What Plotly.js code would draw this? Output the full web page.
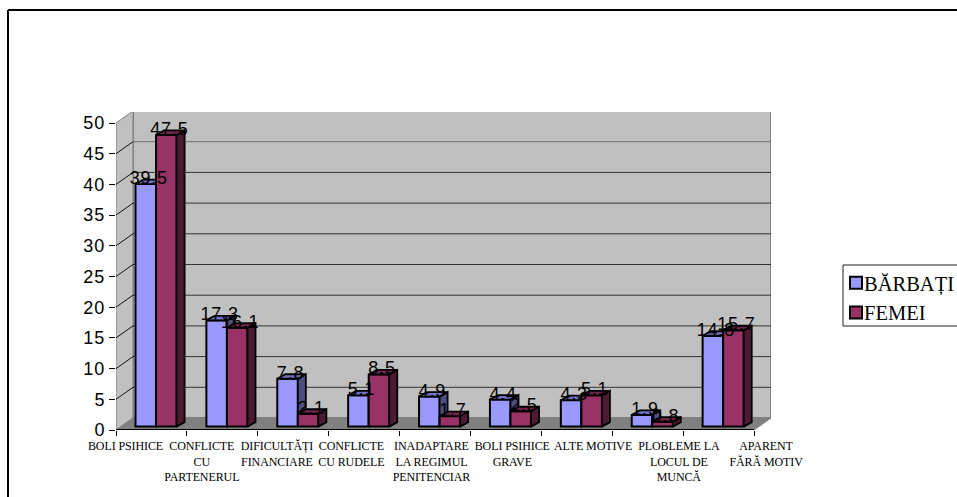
<!DOCTYPE html>
<html>
<head>
<meta charset="utf-8">
<script src="https://cdn.plot.ly/plotly-3.0.1.min.js"></script>
<style>
  html, body { margin: 0; padding: 0; background: #fff; }
  #chart { width: 957px; height: 497px; }
  .ytick text { letter-spacing: 1px; }
  .textpoint text { letter-spacing: 0.8px; }
  .legendtext { transform: translateX(-12px); }
  .x2tick text { letter-spacing: -0.1px; }
</style>
</head>
<body>
<div id="chart"></div>
<script>
// Suicide motives by sex, percentages per category
const categories = [
  "BOLI PSIHICE",
  "CONFLICTE<br>CU<br>PARTENERUL",
  "DIFICULTĂȚI<br>FINANCIARE",
  "CONFLICTE<br>CU RUDELE",
  "INADAPTARE<br>LA REGIMUL<br>PENITENCIAR",
  "BOLI PSIHICE<br>GRAVE",
  "ALTE MOTIVE",
  "PLOBLEME LA<br>LOCUL DE<br>MUNCĂ",
  "APARENT<br>FĂRĂ MOTIV"
];
const barbati = [39.5, 17.3, 7.8, 5.1, 4.9, 4.4, 4.3, 1.9, 14.8];
const femei = [47.5, 16.1, 2.1, 8.5, 1.7, 2.5, 5.1, 0.8, 15.7];
const yTicks = [0, 5, 10, 15, 20, 25, 30, 35, 40, 45, 50];
// Category label centres drift to the right of the category slots
const labelCentres = [0.134, 1.21, 2.27, 3.32, 4.45, 5.59, 6.73, 7.94, 9.17];

// Frame geometry in pixels of the page
const W = 957, H = 497;
const plotL = 116, plotT = 112, plotR = 771, plotB = 430;
const unitX = 638 / 9, unitY = 307 / 50;

// Depth of the box and of the bars, expressed in axis units
const wallDX = 17 / unitX, wallDY = 12 / unitY;
const barDX = 8 / unitX, barDY = 4.5 / unitY;
const barBase = 0.55, barW = 0.29, barStart = 0.275;
const labelLift = 4.5 / unitY;

const xMax = (plotR - plotL) / unitX, yMax = (plotB - plotT) / unitY;
const paperX = px => (px - plotL) / (plotR - plotL);
const paperY = px => (plotB - px) / (plotB - plotT);

function frontBar(name, values, slot, color, xa, ya) {
  return {
    type: "bar", name, xaxis: xa, yaxis: ya, hoverinfo: "skip",
    x: values.map((_, i) => i + barStart + barW * (slot + 0.5)),
    y: values, base: values.map(() => barBase), width: barW,
    marker: { color, line: { color: "#000", width: 2 } }
  };
}

// One outlined polygon per bar, separated by nulls
function depthFaces(values, slot, color, xa, ya, face) {
  const xs = [], ys = [];
  values.forEach((v, i) => {
    const l = i + barStart + barW * slot, r = l + barW, top = barBase + v;
    const pts = face === "side"
      ? [[r, barBase], [r + barDX, barBase + barDY], [r + barDX, top + barDY], [r, top], [r, barBase]]
      : [[l, top], [l + barDX, top + barDY], [r + barDX, top + barDY], [r, top], [l, top]];
    pts.forEach(p => { xs.push(p[0]); ys.push(p[1]); });
    xs.push(null); ys.push(null);
  });
  return {
    type: "scatter", mode: "lines", x: xs, y: ys, xaxis: xa, yaxis: ya,
    fill: "toself", fillcolor: color, showlegend: false, hoverinfo: "skip",
    line: { color: "#000", width: 1.8 }
  };
}

function valueLabels(values, slot) {
  return {
    type: "scatter", mode: "text", xaxis: "x2", yaxis: "y2",
    x: values.map((_, i) => i + barStart + barW * (slot + 0.5) + 3 / unitX),
    y: values.map(v => barBase + v + labelLift),
    text: values.map(v => v.toFixed(1)),
    textposition: "middle center", cliponaxis: false,
    textfont: { family: "Liberation Sans, Arial, sans-serif", size: 18, color: "#000" },
    showlegend: false, hoverinfo: "skip"
  };
}

const traces = [
  depthFaces(barbati, 0, "#4d4d80", "x", "y", "side"),
  depthFaces(barbati, 0, "#7373bf", "x", "y", "top"),
  frontBar("BĂRBAȚI", barbati, 0, "#9999ff", "x", "y"),
  depthFaces(femei, 1, "#4d1a33", "x2", "y2", "side"),
  depthFaces(femei, 1, "#73264d", "x2", "y2", "top"),
  frontBar("FEMEI", femei, 1, "#993366", "x2", "y2"),
  valueLabels(barbati, 0),
  valueLabels(femei, 1)
];

const wallGrey = "#808080";
const shapes = [
  // outer chart frame
  { type: "line", xref: "paper", yref: "paper", x0: paperX(8), x1: paperX(W + 4), y0: paperY(10), y1: paperY(10), line: { color: "#000", width: 2 } },
  { type: "line", xref: "paper", yref: "paper", x0: paperX(8), x1: paperX(8), y0: paperY(10), y1: paperY(H + 4), line: { color: "#000", width: 2 } },
  // legend box
  { type: "rect", xref: "paper", yref: "paper", x0: paperX(843), x1: paperX(W + 4), y0: paperY(326), y1: paperY(265), line: { color: "#222", width: 1 } },
  // back wall, side wall and floor of the box
  { type: "rect", layer: "below", xref: "x", yref: "y", x0: wallDX, x1: 9 + wallDX, y0: wallDY, y1: 50 + wallDY, fillcolor: "#c0c0c0", line: { color: wallGrey, width: 2 } },
  { type: "path", layer: "below", xref: "x", yref: "y", path: `M0,0 L${wallDX},${wallDY} L${wallDX},${50 + wallDY} L0,50 Z`, fillcolor: "#c0c0c0", line: { color: wallGrey, width: 1 } },
  { type: "path", layer: "below", xref: "x", yref: "y", path: `M0,0 L9,0 L${9 + wallDX},${wallDY} L${wallDX},${wallDY} Z`, fillcolor: "#808080", line: { color: wallGrey, width: 1 } },
  // category axis line
  { type: "line", xref: "x", yref: "y", x0: 0, x1: 9, y0: 0, y1: 0, line: { color: "#000", width: 2 } }
];

// Gridlines run across the back wall and fold down the side wall
yTicks.filter(v => v > 0).forEach(v => {
  const c = v === 50 ? wallGrey : (v === 45 ? "#6e6e6e" : "#333");
  shapes.push({ type: "line", layer: "below", xref: "x", yref: "y", x0: wallDX, x1: 9 + wallDX, y0: v + wallDY, y1: v + wallDY, line: { color: c, width: v === 50 ? 2 : 1 } });
});
yTicks.filter(v => v > 0 && v < 50).forEach(v => {
  shapes.push({ type: "line", layer: "below", xref: "x", yref: "y", x0: 0, x1: wallDX, y0: v, y1: v + wallDY, line: { color: "#111", width: 1 } });
});

const layout = {
  width: W, height: H,
  margin: { l: plotL, t: plotT, r: W - plotR, b: H - plotB, pad: 0, autoexpand: false },
  paper_bgcolor: "#fff", plot_bgcolor: "rgba(0,0,0,0)",
  barmode: "overlay", showlegend: true,
  xaxis: {
    range: [0, xMax], showgrid: false, zeroline: false, showline: false,
    tickmode: "array", tickvals: [0, 1, 2, 3, 4, 5, 6, 7, 8, 9], ticktext: ["", "", "", "", "", "", "", "", "", ""],
    ticks: "outside", ticklen: 5, tickwidth: 1, tickcolor: "#000"
  },
  xaxis2: {
    overlaying: "x", anchor: "y2", side: "bottom", range: [0, xMax],
    showgrid: false, zeroline: false, showline: false, ticks: "",
    tickmode: "array", tickvals: labelCentres, ticktext: categories, tickangle: 0,
    ticklabeloverflow: "allow", ticklabelstandoff: 7,
    tickfont: { family: "Liberation Serif, Times New Roman, serif", size: 12, color: "#000" }
  },
  yaxis: {
    range: [0, yMax], showgrid: false, zeroline: false, showline: false,
    tickmode: "array", tickvals: yTicks,
    ticks: "outside", ticklen: 6, tickwidth: 1, tickcolor: "#000",
    tickfont: { family: "Liberation Sans, Arial, sans-serif", size: 18, color: "#000" }
  },
  yaxis2: {
    overlaying: "y", anchor: "x2", range: [0, yMax], visible: false
  },
  legend: {
    xref: "container", yref: "container",
    x: 836 / W, y: 1 - 263 / H, xanchor: "left", yanchor: "top",
    bgcolor: "rgba(0,0,0,0)", borderwidth: 0, traceorder: "normal",
    font: { family: "Liberation Serif, Times New Roman, serif", size: 20.5, color: "#000" }
  },
  shapes
};

Plotly.newPlot("chart", traces, layout, { displayModeBar: false, staticPlot: true });
</script>
</body>
</html>
